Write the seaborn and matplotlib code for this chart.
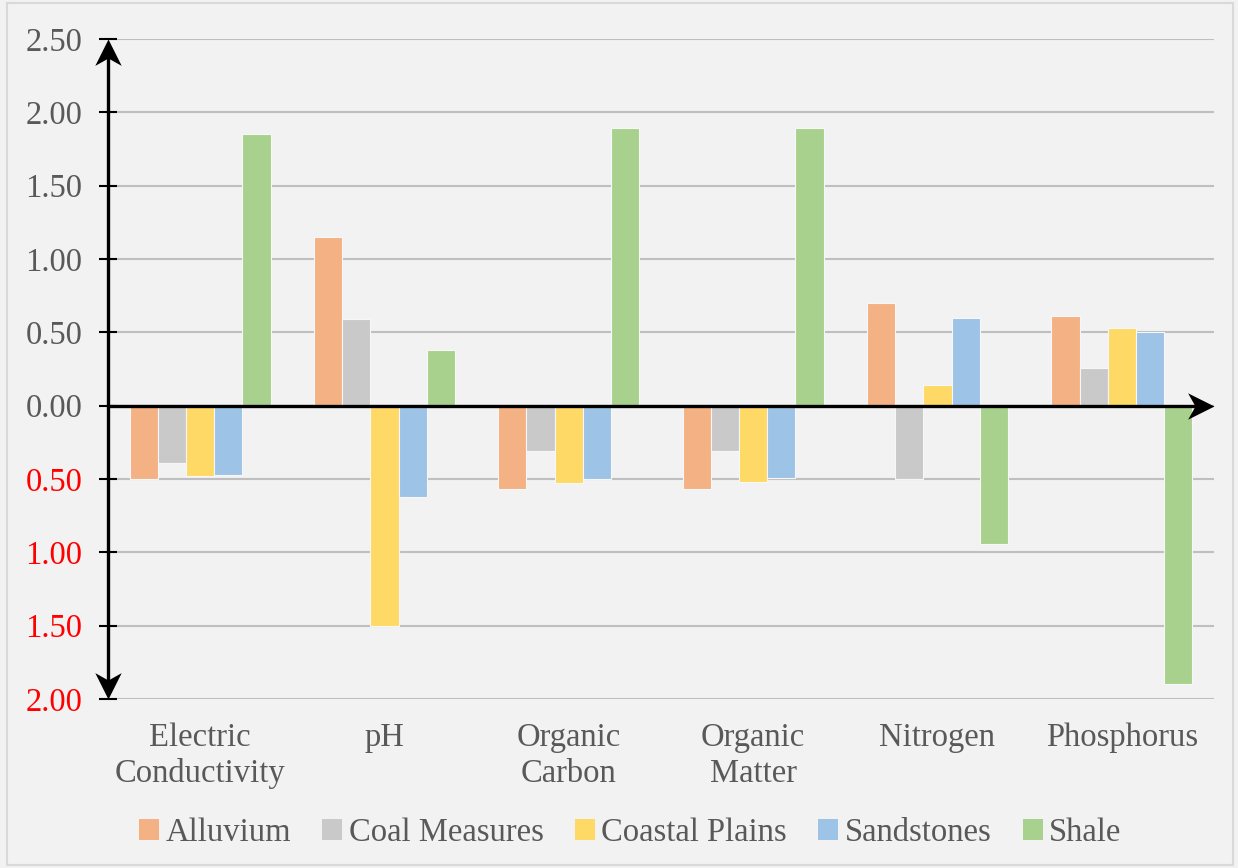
import numpy as np
import pandas as pd
import matplotlib
matplotlib.use("Agg")
import matplotlib.pyplot as plt
from matplotlib.patches import Patch, Rectangle
from matplotlib.path import Path
from matplotlib.ticker import FuncFormatter
import seaborn as sns

# Soil properties (categories) and parent-material series
categories = ["Electric\nConductivity", "pH", "Organic\nCarbon", "Organic\nMatter", "Nitrogen", "Phosphorus"]
series = ["Alluvium", "Coal Measures", "Coastal Plains", "Sandstones", "Shale"]

alluvium = [-0.50, 1.15, -0.57, -0.57, 0.70, 0.61]
coal_measures = [-0.39, 0.59, -0.31, -0.31, -0.50, 0.26]
coastal_plains = [-0.48, -1.50, -0.53, -0.52, 0.14, 0.53]
sandstones = [-0.47, -0.62, -0.50, -0.49, 0.60, 0.50]
shale = [1.85, 0.38, 1.89, 1.89, -0.94, -1.90]

colors = ["#f4b183", "#c9c9c9", "#ffd966", "#9dc3e6", "#a9d18e"]
y_ticks = [-2.0, -1.5, -1.0, -0.5, 0.0, 0.5, 1.0, 1.5, 2.0, 2.5]

values = [alluvium, coal_measures, coastal_plains, sandstones, shale]
df = pd.DataFrame(
    [(c, s, v[i]) for s, v in zip(series, values) for i, c in enumerate(categories)],
    columns=["Property", "Parent", "Value"],
)

sns.set_theme(style="white")
plt.rcParams["font.family"] = ["Liberation Serif", "DejaVu Serif"]

bg = "#f2f2f2"
fig = plt.figure(figsize=(12.38, 8.68), dpi=100, facecolor=bg)
ax = fig.add_axes([0.0872, 0.1947, 0.8934, 0.7604])
ax.set_facecolor(bg)

sns.barplot(
    data=df, x="Property", y="Value", hue="Parent",
    order=categories, hue_order=series, palette=colors,
    width=0.765, gap=0, ax=ax, legend=False,
    edgecolor="#f7f7f7", linewidth=0.8, saturation=1,
)

x_lo, x_hi = -0.5, len(categories) - 0.5
ax.set_xlim(x_lo, x_hi)
ax.set_ylim(-2.0, 2.5)
ax.set_yticks(y_ticks)
ax.yaxis.set_major_formatter(FuncFormatter(lambda v, p: f"{abs(v):.2f}"))
ax.set_xlabel("")
ax.set_ylabel("")

for s in ax.spines.values():
    s.set_visible(False)

ax.grid(axis="y", color="#bfbfbf", linewidth=1.5)
ax.grid(axis="x", visible=False)
ax.set_axisbelow(True)

ax.tick_params(axis="y", which="major", direction="inout", length=13, width=1.5,
               color="black", left=True, labelsize=23.5, pad=12, labelcolor="#595959")
ax.tick_params(axis="x", length=0, labelsize=23.5, pad=17, labelcolor="#595959")
for lbl in ax.get_xticklabels():
    lbl.set_linespacing(1.22)
for lbl, v in zip(ax.get_yticklabels(), y_ticks):
    lbl.set_color("red" if v < 0 else "#595959")

# Axis lines with stealth-style arrowheads (tip sits on the end point)
def stealth(direction):
    base = np.array([[0, 0], [-0.5, -1.0], [0, -0.72], [0.5, -1.0], [0, 0]])
    rot = {"up": 0, "down": 180, "right": -90}[direction]
    t = np.deg2rad(rot)
    R = np.array([[np.cos(t), -np.sin(t)], [np.sin(t), np.cos(t)]])
    verts = base @ R.T
    codes = [Path.MOVETO, Path.LINETO, Path.LINETO, Path.LINETO, Path.CLOSEPOLY]
    return Path(verts, codes)

ax.plot([x_lo, x_hi - 0.05], [0, 0], color="black", lw=2.4, clip_on=False, zorder=5)
ax.plot([x_lo, x_lo], [-1.95, 2.45], color="black", lw=2.4, clip_on=False, zorder=5)
head = dict(color="black", markersize=38, linestyle="none", clip_on=False, zorder=6,
            markeredgewidth=0)
ax.plot([x_hi], [0], marker=stealth("right"), **head)
ax.plot([x_lo], [2.5], marker=stealth("up"), **head)
ax.plot([x_lo], [-2.0], marker=stealth("down"), **head)

# Legend along the bottom
handles = [Patch(facecolor=c, edgecolor="none", label=s) for c, s in zip(colors, series)]
fig.legend(handles=handles, loc="center", bbox_to_anchor=(0.509, 0.041), ncol=5,
           frameon=False, fontsize=23.5, handlelength=0.62, handleheight=0.62,
           handletextpad=0.2, columnspacing=0.95, labelcolor="#595959")

# Chart border
fig.patches.append(Rectangle((0.006, 0.003), 0.99, 0.994, transform=fig.transFigure,
                             fill=False, edgecolor="#d9d9d9", linewidth=1.5))

fig.savefig("out.png", dpi=100, facecolor=bg)
